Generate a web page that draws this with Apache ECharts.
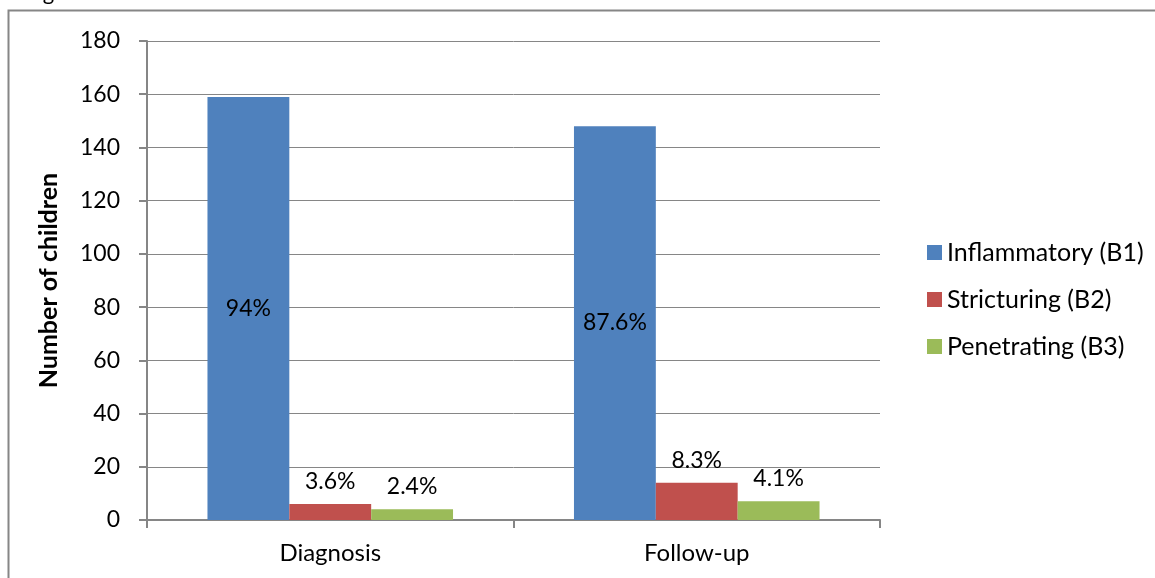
<!DOCTYPE html>
<html>
<head>
<meta charset="utf-8">
<script src="https://cdn.jsdelivr.net/npm/echarts@6/dist/echarts.min.js"></script>
<style>
  html, body { margin: 0; padding: 0; background: #fff; }
  #chart { width: 1155px; height: 578px; }
</style>
</head>
<body>
<div id="chart"></div>
<script>
// Crohn's disease behaviour at diagnosis and at follow-up
const categories = ['Diagnosis', 'Follow-up'];
const seriesNames = ['Inflammatory (B1)', 'Stricturing (B2)', 'Penetrating (B3)'];
const inflammatory = [159, 148];
const stricturing = [6, 14];
const penetrating = [4, 7];
const inflammatoryPct = ['94%', '87.6%'];
const stricturingPct = ['3.6%', '8.3%'];
const penetratingPct = ['2.4%', '4.1%'];
const yTicks = [0, 20, 40, 60, 80, 100, 120, 140, 160, 180];

const colors = ['#4f81bd', '#c0504d', '#9bbb59'];
const FONT = 'Lato, "Open Sans", sans-serif';
const GRAY = '#868686';

function withLabels(values, labels) {
  return values.map((v, i) => ({ value: v, label: { formatter: labels[i] } }));
}

const chart = echarts.init(document.getElementById('chart'));
chart.setOption({
  animation: false,
  textStyle: { fontFamily: FONT },
  color: colors,
  graphic: [
    {
      type: 'rect',
      shape: { x: 8.5, y: 10.5, width: 1200, height: 700 },
      style: { fill: 'none', stroke: GRAY, lineWidth: 2 },
      z: 0
    },
    {
      // caption line sitting above the chart frame
      type: 'text',
      x: 25,
      y: 4,
      style: {
        text: 'Figure',
        font: 'normal 22px Lato, sans-serif',
        fill: '#000',
        verticalAlign: 'bottom'
      },
      z: 10
    }
  ],
  grid: { left: 147, right: 275, top: 41, bottom: 58 },
  legend: {
    orient: 'vertical',
    left: 922,
    top: 235,
    itemWidth: 15,
    itemHeight: 15,
    itemGap: 22,
    icon: 'rect',
    data: seriesNames,
    textStyle: { fontFamily: FONT, fontSize: 25, color: '#000', padding: [0, 0, 0, 0] }
  },
  xAxis: {
    type: 'category',
    data: categories,
    axisLine: { lineStyle: { color: GRAY, width: 2 } },
    axisTick: { show: true, length: 8, lineStyle: { color: GRAY, width: 2 } },
    axisLabel: { color: '#000', fontSize: 24, fontFamily: FONT, margin: 21 }
  },
  yAxis: {
    type: 'value',
    min: yTicks[0],
    max: yTicks[yTicks.length - 1],
    interval: 20,
    name: 'Number of children',
    nameLocation: 'middle',
    nameGap: 86,
    nameTextStyle: { color: '#000', fontSize: 25, fontWeight: 'bold', fontFamily: FONT },
    axisLine: { show: true, lineStyle: { color: GRAY, width: 2 } },
    axisTick: { show: true, length: 8, lineStyle: { color: GRAY, width: 2 } },
    splitLine: { lineStyle: { color: GRAY, width: 1 } },
    axisLabel: { color: '#000', fontSize: 23, fontFamily: FONT, margin: 27 }
  },
  series: [
    {
      name: seriesNames[0], type: 'bar', barGap: '0%', barCategoryGap: '33%',
      data: withLabels(inflammatory, inflammatoryPct),
      label: { show: true, position: 'inside', color: '#000', fontSize: 23, fontFamily: FONT }
    },
    {
      name: seriesNames[1], type: 'bar', barGap: '0%', barCategoryGap: '33%',
      data: withLabels(stricturing, stricturingPct),
      label: { show: true, position: 'top', distance: 11, color: '#000', fontSize: 23, fontFamily: FONT }
    },
    {
      name: seriesNames[2], type: 'bar', barGap: '0%', barCategoryGap: '33%',
      data: withLabels(penetrating, penetratingPct),
      label: { show: true, position: 'top', distance: 11, color: '#000', fontSize: 23, fontFamily: FONT }
    }
  ]
});
</script>
</body>
</html>
